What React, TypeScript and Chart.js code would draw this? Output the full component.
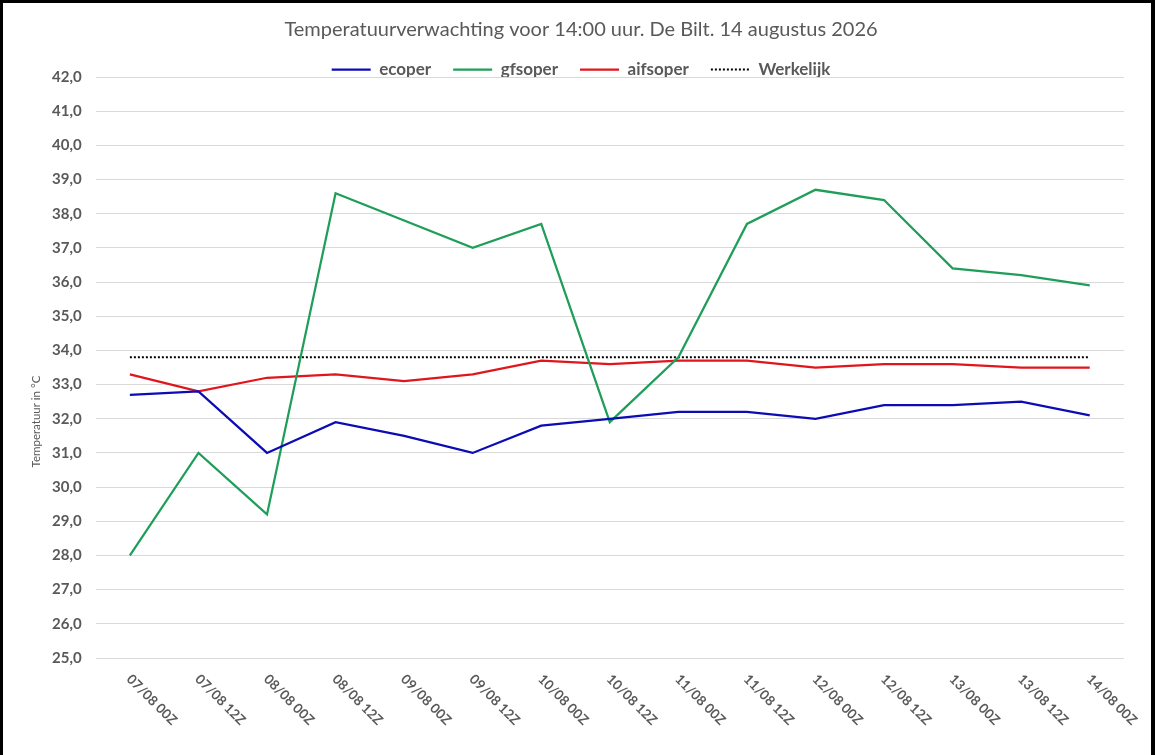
import { useEffect, useRef } from "react";
import { Chart, registerables } from "chart.js";

Chart.register(...registerables);

const categories = [
  "07/08 00Z", "07/08 12Z", "08/08 00Z", "08/08 12Z", "09/08 00Z",
  "09/08 12Z", "10/08 00Z", "10/08 12Z", "11/08 00Z", "11/08 12Z",
  "12/08 00Z", "12/08 12Z", "13/08 00Z", "13/08 12Z", "14/08 00Z",
];

const ecoper = [32.7, 32.8, 31.0, 31.9, 31.5, 31.0, 31.8, 32.0, 32.2, 32.2, 32.0, 32.4, 32.4, 32.5, 32.1];
const gfsoper = [28.0, 31.0, 29.2, 38.6, 37.8, 37.0, 37.7, 31.9, 33.8, 37.7, 38.7, 38.4, 36.4, 36.2, 35.9];
const aifsoper = [33.3, 32.8, 33.2, 33.3, 33.1, 33.3, 33.7, 33.6, 33.7, 33.7, 33.5, 33.6, 33.6, 33.5, 33.5];
const werkelijk = [33.8, 33.8, 33.8, 33.8, 33.8, 33.8, 33.8, 33.8, 33.8, 33.8, 33.8, 33.8, 33.8, 33.8, 33.8];

const yMin = 25;
const yMax = 42;
const yStep = 1;

const TITLE = "Temperatuurverwachting voor 14:00 uur. De Bilt. 14 augustus 2026";
const Y_TITLE = "Temperatuur in °C";
const FONT = "Lato, 'Open Sans', sans-serif";
const GREY = "#595959";

// the legend box always adds 10px below the row; the reference has it tight to the plot
const legendTight = {
  id: "legendTight",
  beforeLayout(chart: any) {
    const legend = chart.legend;
    if (legend && !legend._tight) {
      const fit = legend.fit.bind(legend);
      legend.fit = () => {
        fit();
        legend.height -= 11;
      };
      legend._tight = true;
    }
  },
};

// x labels run down to the right from the tick, which Chart.js can't do by itself
const slantedLabels = {
  id: "slantedLabels",
  afterDraw(chart: any) {
    const { ctx, chartArea } = chart;
    const xScale = chart.scales.x;
    ctx.save();
    ctx.fillStyle = GREY;
    ctx.font = `bold 13.5px ${FONT}`;
    ctx.textAlign = "left";
    ctx.textBaseline = "middle";
    chart.data.labels.forEach((label: string, i: number) => {
      ctx.save();
      ctx.translate(xScale.getPixelForValue(i) - 1, chartArea.bottom + 19);
      ctx.rotate(Math.PI / 4);
      ctx.fillText(label, 0, 0);
      ctx.restore();
    });
    // y title sits lower than centre in the original
    ctx.font = `11.5px ${FONT}`;
    ctx.textAlign = "center";
    ctx.translate(chartArea.left - 59, (chartArea.top + chartArea.bottom) / 2 + 54);
    ctx.rotate(-Math.PI / 2);
    ctx.fillText(Y_TITLE, 0, 0);
    ctx.restore();
  },
};

export default function App() {
  const canvasRef = useRef<HTMLCanvasElement>(null);
  const chartRef = useRef<Chart | null>(null);

  useEffect(() => {
    document.body.style.margin = "0";
    if (!canvasRef.current) return;

    chartRef.current?.destroy();
    chartRef.current = new Chart(canvasRef.current, {
      type: "line",
      data: {
        labels: categories,
        datasets: [
          { label: "ecoper", data: ecoper, borderColor: "#0c0cb4", backgroundColor: "#0c0cb4", borderWidth: 2.25 },
          { label: "gfsoper", data: gfsoper, borderColor: "#1f9e5a", backgroundColor: "#1f9e5a", borderWidth: 2.25 },
          { label: "aifsoper", data: aifsoper, borderColor: "#e0161c", backgroundColor: "#e0161c", borderWidth: 2.25 },
          {
            label: "Werkelijk",
            data: werkelijk,
            borderColor: "#000000",
            backgroundColor: "#000000",
            borderWidth: 2,
            borderDash: [2, 2],
          },
        ],
      },
      options: {
        animation: false,
        responsive: true,
        maintainAspectRatio: false,
        layout: { padding: { left: 38, right: 31, top: 0, bottom: 97 } },
        elements: {
          line: { tension: 0 },
          point: { radius: 0, hoverRadius: 0 },
        },
        plugins: {
          title: {
            display: true,
            text: TITLE,
            color: GREY,
            font: { family: FONT, size: 20, weight: "normal" },
            padding: { top: 18, bottom: -3 },
          },
          legend: {
            position: "top",
            labels: {
              color: GREY,
              font: { family: FONT, size: 17, weight: "bold" },
              // odd width so the dash of the flat box's return stroke lands on the same dots
              boxWidth: 39,
              boxHeight: 0,
              padding: 22,
            },
          },
          tooltip: { enabled: false },
        },
        scales: {
          x: {
            type: "category",
            display: false,
            offset: true,
          },
          y: {
            min: yMin,
            max: yMax,
            border: { display: false },
            grid: { color: "#d9d9d9", lineWidth: 1, drawTicks: false },
            ticks: {
              stepSize: yStep,
              padding: 14,
              color: GREY,
              font: { family: FONT, size: 15, weight: "bold" },
              callback: (v: any) => Number(v).toFixed(1).replace(".", ","),
            },
          },
        },
      },
      plugins: [legendTight, slantedLabels],
    });

    return () => {
      chartRef.current?.destroy();
      chartRef.current = null;
    };
  }, []);

  return (
    <div style={{ position: "relative", width: 1155, height: 755, background: "#fff" }}>
      <canvas ref={canvasRef} />
      <div
        style={{
          position: "absolute",
          inset: 0,
          boxSizing: "border-box",
          borderStyle: "solid",
          borderColor: "#000",
          borderWidth: "3px 4px 0 3px",
          pointerEvents: "none",
        }}
      />
    </div>
  );
}
